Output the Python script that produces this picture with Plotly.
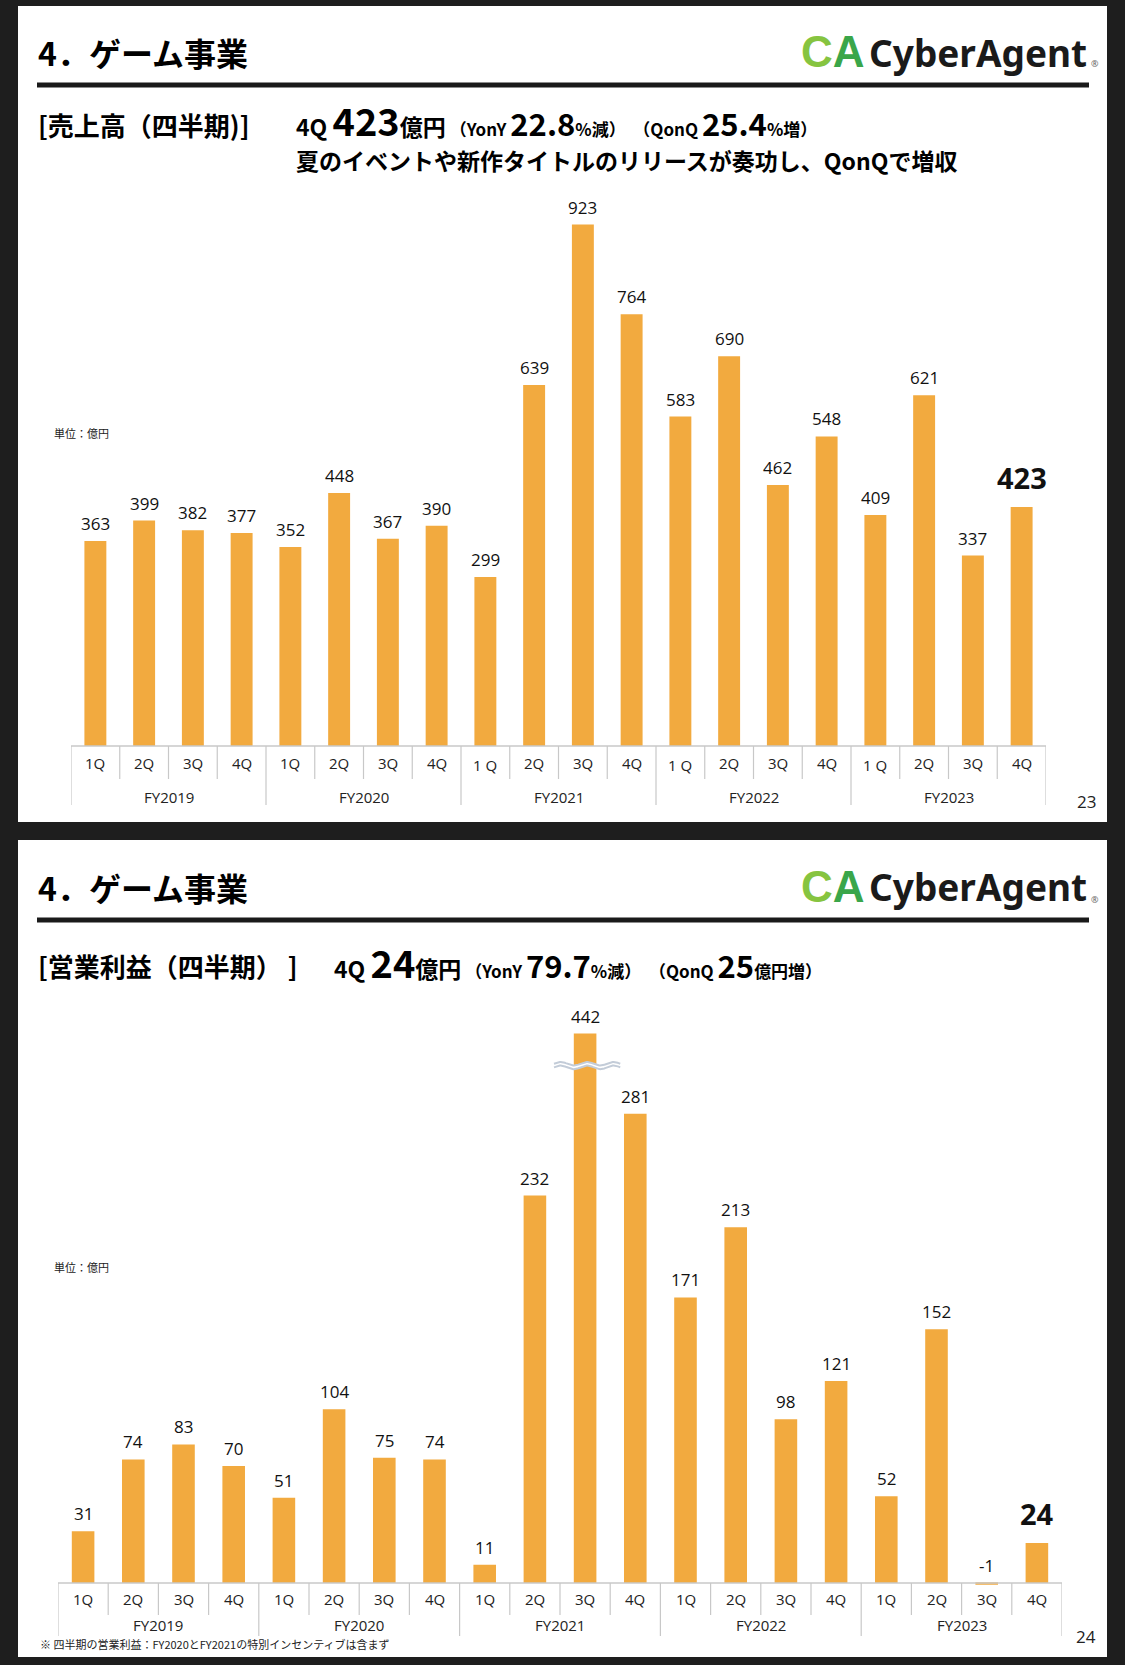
import numpy as np
import plotly.graph_objects as go

W, H = 1125, 1665

# ---------------- data ----------------
YEARS = ["FY2019", "FY2020", "FY2021", "FY2022", "FY2023"]
QUARTERS_TOP = ["1Q", "2Q", "3Q", "4Q", "1Q", "2Q", "3Q", "4Q",
                "1 Q", "2Q", "3Q", "4Q", "1 Q", "2Q", "3Q", "4Q",
                "1 Q", "2Q", "3Q", "4Q"]
QUARTERS_BOTTOM = ["1Q", "2Q", "3Q", "4Q"] * 5
SALES = [363, 399, 382, 377, 352, 448, 367, 390, 299, 639,
         923, 764, 583, 690, 462, 548, 409, 621, 337, 423]
PROFIT = [31, 74, 83, 70, 51, 104, 75, 74, 11, 232,
          442, 281, 171, 213, 98, 121, 52, 152, -1, 24]

TITLE = "4．ゲーム事業"
SUB_TOP_LABEL = "[売上高（四半期)]"
SUB_BOTTOM_LABEL = "[営業利益（四半期） ]"
UNIT = "単位：億円"
FOOTNOTE = "※ 四半期の営業利益：FY2020とFY2021の特別インセンティブは含まず"

# ---------------- style ----------------
ORANGE = "#F2AA3F"
GRID = "#c8c8c8"
TXT = "#222222"
NUM_FONT = "Open Sans"
JP_FONT = "Noto Sans CJK JP"


def py(p):
    return 1 - p / H


def px(p):
    return p / W


fig = go.Figure()
shapes = []
ann = []

# panels
for top, bot in [(6, 822), (840, 1657)]:
    shapes.append(dict(type="rect", xref="paper", yref="paper", x0=px(18), x1=px(1107),
                       y0=py(bot), y1=py(top), fillcolor="white", line_width=0, layer="below"))

# headers
for off, page in [(0, "23"), (835, "24")]:
    ann.append(dict(text=TITLE, x=px(36), y=py(52 + off), xref="paper", yref="paper",
                    xanchor="left", yanchor="middle", showarrow=False,
                    font=dict(family=JP_FONT, size=32, color="#000", weight="bold")))
    shapes.append(dict(type="rect", xref="paper", yref="paper", x0=px(37), x1=px(1089),
                       y0=py(87.5 + off), y1=py(82.5 + off), fillcolor="#1a1a1a", line_width=0))
    # logo
    ann.append(dict(text="<span style='color:#86c440'>C</span><span style='color:#3aa64a'>A</span>",
                    x=px(799), y=py(51 + off), xref="paper", yref="paper",
                    xanchor="left", yanchor="middle", showarrow=False,
                    font=dict(family="Liberation Sans", size=44, color="#3aa64a", weight="bold")))
    ann.append(dict(text="CyberAgent", x=px(867), y=py(52 + off), xref="paper", yref="paper",
                    xanchor="left", yanchor="middle", showarrow=False,
                    font=dict(family="Noto Sans", size=37, color="#1a1a1a", weight="bold")))
    ann.append(dict(text="®", x=px(1089), y=py(64 + off), xref="paper", yref="paper",
                    xanchor="left", yanchor="middle", showarrow=False,
                    font=dict(family="Noto Sans", size=9, color="#666")))
    # page number
    ann.append(dict(text=page, x=px(1086), y=py(801 + off), xref="paper", yref="paper",
                    xanchor="center", yanchor="middle", showarrow=False,
                    font=dict(family=NUM_FONT, size=17, color=TXT)))

S = "<span style='font-size:17px'>"
E = "</span>"
M = "<span style='font-size:31px'>"
B = "<span style='font-size:38px'>"
# subtitles
ann.append(dict(text=SUB_TOP_LABEL, x=px(36), y=py(124), xref="paper", yref="paper",
                xanchor="left", yanchor="middle", showarrow=False,
                font=dict(family=JP_FONT, size=26, color="#000", weight="bold")))
ann.append(dict(text="4Q " + B + "423" + E + "億円" + S + " （YonY " + E +
                M + "22.8" + E + S + "%減）  （QonQ " + E +
                M + "25.4" + E + S + "%増）" + E,
                x=px(294), y=py(119), xref="paper", yref="paper",
                xanchor="left", yanchor="middle", showarrow=False,
                font=dict(family=JP_FONT, size=23, color="#000", weight="bold")))
ann.append(dict(text="夏のイベントや新作タイトルのリリースが奏功し、QonQで増収",
                x=px(294), y=py(160), xref="paper", yref="paper",
                xanchor="left", yanchor="middle", showarrow=False,
                font=dict(family=JP_FONT, size=23, color="#000", weight="bold")))
ann.append(dict(text=SUB_BOTTOM_LABEL, x=px(36), y=py(965), xref="paper", yref="paper",
                xanchor="left", yanchor="middle", showarrow=False,
                font=dict(family=JP_FONT, size=26, color="#000", weight="bold")))
ann.append(dict(text="4Q " + B + "24" + E + "億円" + S + " （YonY " + E +
                M + "79.7" + E + S + "%減）  （QonQ " + E +
                M + "25" + E + S + "億円増）" + E,
                x=px(332), y=py(962), xref="paper", yref="paper",
                xanchor="left", yanchor="middle", showarrow=False,
                font=dict(family=JP_FONT, size=23, color="#000", weight="bold")))
ann.append(dict(text=FOOTNOTE, x=px(38), y=py(1644), xref="paper", yref="paper",
                xanchor="left", yanchor="middle", showarrow=False,
                font=dict(family=JP_FONT, size=11, color=TXT)))

charts = [
    dict(vals=SALES, quarters=QUARTERS_TOP, xl=71, xr=1046, base=746, k=0.565,
         yr=[0, 1000], qend=779, yend=805, qy=763, yy=797, unit_y=433, cap=None,
         xa="x", ya="y"),
    dict(vals=PROFIT, quarters=QUARTERS_BOTTOM, xl=58, xr=1062, base=1583, k=1.67,
         yr=[-8, 340], qend=1615, yend=1636, qy=1599, yy=1625, unit_y=1267, cap=329,
         xa="x2", ya="y2"),
]

layout_axes = {}
for ci, c in enumerate(charts):
    n = len(c["vals"])
    cap = c["cap"]
    disp = [min(v, cap) if cap is not None else v for v in c["vals"]]
    fig.add_trace(go.Bar(x=list(range(n)), y=disp, width=0.45, marker_color=ORANGE,
                         marker_line_width=0, xaxis=c["xa"], yaxis=c["ya"],
                         hoverinfo="skip", showlegend=False))
    lo, hi = c["yr"]
    dom = [py(c["base"] - lo * c["k"]), py(c["base"] - hi * c["k"])]
    sfx = "" if ci == 0 else "2"
    layout_axes["xaxis" + sfx] = dict(range=[-0.5, n - 0.5], domain=[px(c["xl"]), px(c["xr"])],
                                      visible=False, fixedrange=True,
                                      anchor="y" + sfx)
    layout_axes["yaxis" + sfx] = dict(range=[lo, hi], domain=dom, visible=False,
                                      fixedrange=True, anchor="x" + sfx)
    xr_ = c["xa"]
    yr_ = c["ya"]
    # value labels
    for i, v in enumerate(c["vals"]):
        last = i == n - 1
        ann.append(dict(text=str(v), x=i, y=max(disp[i], 0), xref=xr_, yref=yr_,
                        xanchor="center", yanchor="bottom", showarrow=False,
                        yshift=8 if last else 4,
                        font=dict(family=NUM_FONT, size=29 if last else 17, color="#111",
                                  weight="bold" if last else "normal")))
    # axis line
    shapes.append(dict(type="line", xref=xr_, yref="paper", x0=-0.5, x1=n - 0.5,
                       y0=py(c["base"]), y1=py(c["base"]), line=dict(color=GRID, width=1.5)))
    # separators
    for j in range(n + 1):
        end = c["yend"] if j % 4 == 0 else c["qend"]
        shapes.append(dict(type="line", xref=xr_, yref="paper", x0=j - 0.5, x1=j - 0.5,
                           y0=py(c["base"]), y1=py(end), line=dict(color=GRID, width=1.2)))
    # quarter labels
    for i, q in enumerate(c["quarters"]):
        lower = " " in q
        ann.append(dict(text=q, x=i, y=py(c["qy"] + (2 if lower else 0)), xref=xr_, yref="paper",
                        xanchor="center", yanchor="middle", showarrow=False,
                        font=dict(family=NUM_FONT, size=15, color=TXT)))
    # year labels
    for yi, yname in enumerate(YEARS):
        ann.append(dict(text=yname, x=yi * 4 + 1.5, y=py(c["yy"]), xref=xr_, yref="paper",
                        xanchor="center", yanchor="middle", showarrow=False,
                        font=dict(family=NUM_FONT, size=15, color=TXT)))
    # unit
    ann.append(dict(text=UNIT, x=px(52), y=py(c["unit_y"]), xref="paper", yref="paper",
                    xanchor="left", yanchor="middle", showarrow=False,
                    font=dict(family=JP_FONT, size=11, color=TXT)))
    # break mark for capped bars
    if cap is not None:
        for i, v in enumerate(c["vals"]):
            if v > cap:
                wy = cap - 32 / c["k"]
                xs = np.linspace(i - 0.62, i + 0.70, 80)
                ph = (xs - xs[0]) / (xs[-1] - xs[0]) * 2.5 * 2 * np.pi
                amp = 1.8 / c["k"]
                gap = 3.6 / c["k"]
                up = wy + gap / 2 + amp * np.sin(ph)
                dn = wy - gap / 2 + amp * np.sin(ph)
                fig.add_trace(go.Scatter(x=np.concatenate([xs, xs[::-1]]),
                                         y=np.concatenate([up, dn[::-1]]),
                                         fill="toself", fillcolor="white", mode="none",
                                         xaxis=xr_, yaxis=yr_, hoverinfo="skip",
                                         showlegend=False))
                for arr in (up, dn):
                    fig.add_trace(go.Scatter(x=xs, y=arr, mode="lines",
                                             line=dict(color="#c3ccd8", width=2),
                                             xaxis=xr_, yaxis=yr_, hoverinfo="skip",
                                             showlegend=False, cliponaxis=False))

fig.update_layout(
    width=W, height=H, margin=dict(l=0, r=0, t=0, b=0),
    paper_bgcolor="#1e1e1e", plot_bgcolor="rgba(0,0,0,0)",
    shapes=shapes, annotations=ann, bargap=0.5, showlegend=False,
    **layout_axes,
)

fig.write_html("out.html", include_plotlyjs=True, config={"displayModeBar": False})
